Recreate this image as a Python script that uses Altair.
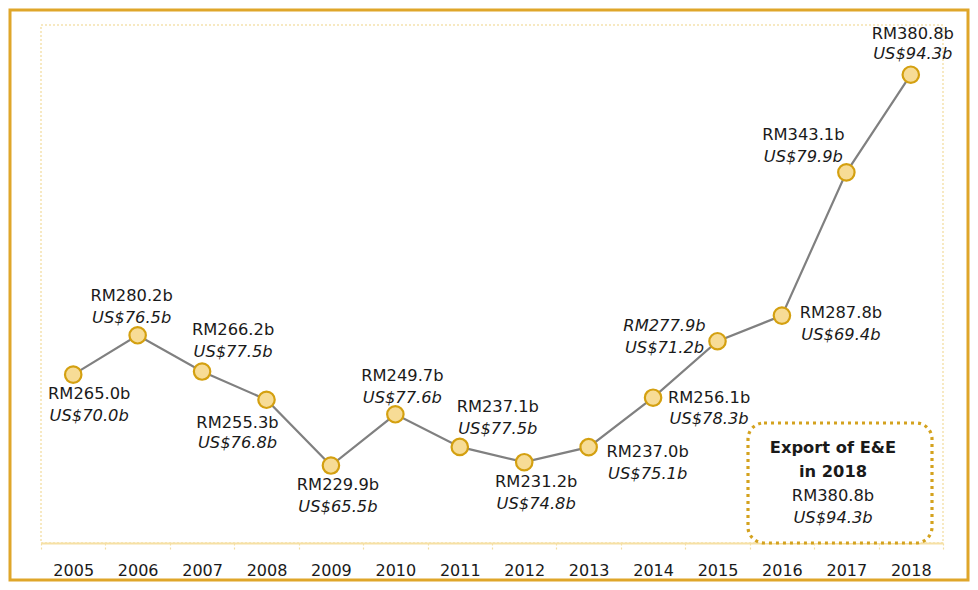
import altair as alt
import pandas as pd

years = ["2005", "2006", "2007", "2008", "2009", "2010", "2011",
         "2012", "2013", "2014", "2015", "2016", "2017", "2018"]
rm = [265.0, 280.2, 266.2, 255.3, 229.9, 249.7, 237.1,
      231.2, 237.0, 256.1, 277.9, 287.8, 343.1, 380.8]
us = [70.0, 76.5, 77.5, 76.8, 65.5, 77.6, 77.5,
      74.8, 75.1, 78.3, 71.2, 69.4, 79.9, 94.3]

# label placement (pixel offsets from each point): style only
lab_dx = [16, -6, 31, -29, 7, 7, 38, 12, 59, 56, -53, 59, -43, 2]
lab_dy_rm = [19, -39, -42, 23, 19, -38, -40, 20, 5, 0, -15, -3, -37, -41]
lab_dy_us = [41, -17, -20, 43, 41, -16, -18, 42, 27, 21, 7, 19, -15, -21]
rm_italic = [False] * 10 + [True] + [False] * 3

df = pd.DataFrame({
    "year": years,
    "rm": rm,
    "us": us,
    "rm_label": [f"RM{v:.1f}b" for v in rm],
    "us_label": [f"US${v:.1f}b" for v in us],
})

FONT = "DejaVu Sans"
FS = 16.3
base = alt.Chart(df)

x_enc = alt.X("year:O", sort=years, title=None,
              scale=alt.Scale(paddingInner=0, paddingOuter=0),
              axis=alt.Axis(labelAngle=0, tickBand="extent"))
y_enc = alt.Y("rm:Q", scale=alt.Scale(domain=[200, 400]), axis=None)

line = base.mark_line(color="#808080", strokeWidth=2.2).encode(x=x_enc, y=y_enc)
points = base.mark_point(filled=True, fill="#F7DC96", stroke="#D4A010",
                         strokeWidth=2.2, size=270, opacity=1).encode(x=x_enc, y=y_enc)

layers = [line, points]
for i, yr in enumerate(years):
    sub = base.transform_filter(alt.datum.year == yr)
    layers.append(sub.mark_text(font=FONT, fontSize=FS, color="#1a1a1a",
                                fontStyle="italic" if rm_italic[i] else "normal",
                                dx=lab_dx[i], dy=lab_dy_rm[i], baseline="middle")
                  .encode(x=x_enc, y=y_enc, text="rm_label:N"))
    layers.append(sub.mark_text(font=FONT, fontSize=FS, color="#1a1a1a",
                                fontStyle="italic",
                                dx=lab_dx[i], dy=lab_dy_us[i], baseline="middle")
                  .encode(x=x_enc, y=y_enc, text="us_label:N"))

# annotation box
box_lines = ["Export of E&E", "in 2018", f"RM{rm[-1]:.1f}b", f"US${us[-1]:.1f}b"]
box_y = [423, 447, 471, 493]
box_w = ["bold", "bold", "normal", "normal"]
box_s = ["normal", "normal", "normal", "italic"]

box = alt.Chart(df).mark_rect(fill="white", stroke="#D4A21E", strokeWidth=3.2,
                              strokeDash=[3, 4], cornerRadius=16).encode(
    x=alt.value(707), x2=alt.value(891), y=alt.value(398), y2=alt.value(518))
layers.append(box.transform_filter(alt.datum.year == years[-1]))
for t, yy, w, s in zip(box_lines, box_y, box_w, box_s):
    layers.append(alt.Chart(df).transform_filter(alt.datum.year == years[-1])
                  .mark_text(text=t, font=FONT, fontSize=FS, fontWeight=w,
                             fontStyle=s, color="#1a1a1a", baseline="middle")
                  .encode(x=alt.value(792), y=alt.value(yy)))

# outer gold frame
frame = alt.Chart(df).transform_filter(alt.datum.year == years[0]).mark_rect(
    fill=None, stroke="#DFA62A", strokeWidth=3).encode(
    x=alt.value(-31), x2=alt.value(927), y=alt.value(-15), y2=alt.value(555))
layers.append(frame)

chart = alt.layer(*layers).properties(
    width=902, height=518,
    autosize=alt.AutoSizeParams(type="none"),
    padding={"left": 33, "top": 17, "right": 27, "bottom": 39},
    background="white",
).configure_view(
    stroke="#F5E2AE", strokeWidth=1.5, strokeDash=[2, 2]
).configure_axisX(
    domainColor="#F6E0A4", domainWidth=2,
    tickColor="#F3DDA0", tickDash=[2, 2], tickSize=6, tickWidth=1.2,
    labelFont=FONT, labelFontSize=16, labelColor="#1a1a1a", labelPadding=13,
    grid=False,
)

chart.save("out.html", embed_options={"renderer": "svg", "actions": False})
